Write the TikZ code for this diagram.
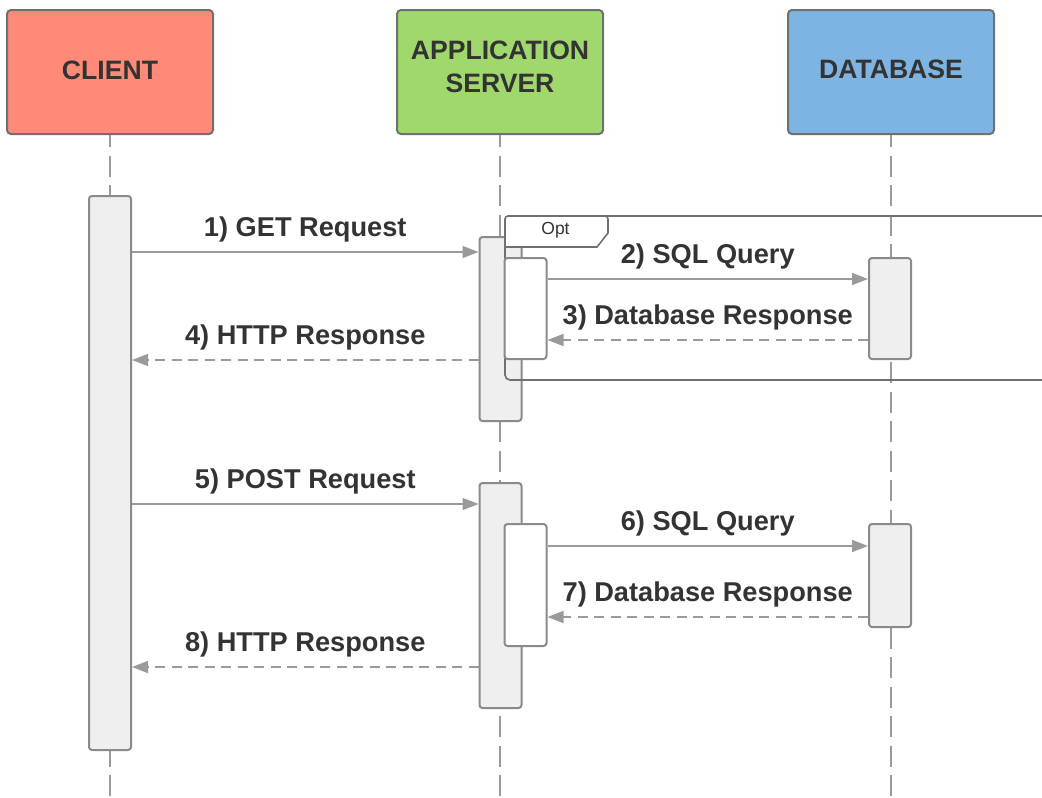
\documentclass[tikz,border=0pt]{standalone}
\usepackage{fontspec}
\setmainfont{Liberation Sans}
\usetikzlibrary{arrows.meta}
\definecolor{clientred}{HTML}{FF8A78}
\definecolor{servergreen}{HTML}{A0D86E}
\definecolor{dbblue}{HTML}{7DB4E1}
\definecolor{textdark}{HTML}{333333}
\definecolor{msggray}{HTML}{9A9A9A}
\definecolor{boxgray}{HTML}{8A8A8A}
\definecolor{headborder}{HTML}{707070}
\definecolor{actfill}{HTML}{EFEFEF}
\tikzset{
  head/.style={draw=headborder, line width=2pt, rounded corners=4pt,
    minimum width=206pt, minimum height=124pt, inner sep=0pt},
  headtext/.style={text=textdark, align=center, inner sep=0pt,
    font=\fontsize{26.6}{33.4}\selectfont\bfseries},
  act/.style={draw=boxgray, line width=2pt, rounded corners=3pt,
    fill=actfill, minimum width=42pt, inner sep=0pt},
  subact/.style={act, fill=white},
  lifeline/.style={draw=msggray, line width=1.5pt,
    dash pattern=on 21pt off 8.5pt, dash phase=9pt},
  msg/.style={draw=msggray, line width=1.6pt,
    -{Triangle[length=16pt,width=12pt]}},
  reply/.style={msg, dash pattern=on 10pt off 6.5pt},
  msglabel/.style={anchor=base, text=textdark, inner sep=0pt,
    font=\fontsize{27.2}{32}\selectfont\bfseries},
  framepen/.style={draw=headborder, line width=1.6pt},
}
\begin{document}
\begin{tikzpicture}[x=1pt, y=-1pt]
\useasboundingbox (0,0) rectangle (1042,798);
\clip (0,0) rectangle (1042,798);

% participants
\node[head, fill=clientred]   (client) at (110,72) {};
\node[head, fill=servergreen] (server) at (500,72) {};
\node[head, fill=dbblue]      (db)     at (891,72) {};
\node[headtext] (clientname) at (110,70)   {CLIENT};
\node[headtext] (servername) at (500,66.7) {APPLICATION\\SERVER};
\node[headtext] (dbname)     at (891,69.5) {DATABASE};

% lifelines
\coordinate (cend) at (110,800);
\coordinate (send) at (500,800);
\coordinate (dend) at (891,800);
\draw[lifeline] (client.south) -- (cend);
\draw[lifeline] (server.south) -- (send);
\draw[lifeline] (db.south) -- (dend);

% activations
\node[act, minimum height=554pt] (cact)  at (110,473) {};
\node[act, minimum height=184pt] (sact1) at (500.5,329) {};
\node[act, minimum height=225pt] (sact2) at (500.5,595.5) {};

% optional fragment: open frame with a label tab
\coordinate (fTL) at (505,216);
\coordinate (fBL) at (505,380);
\coordinate (fTR) at (1060,216);
\coordinate (fBR) at (1060,380);
\draw[framepen, rounded corners=5pt] (fTR) -- (fTL) -- (fBL) -- (fBR);
\draw[framepen, fill=white, rounded corners=3pt]
  (505,247) -- (fTL) -- (608,216) [sharp corners] -- (608,233) -- (597,247) -- cycle;
\node[text=textdark, font=\fontsize{17.5}{20}\selectfont] (optlabel) at (555.5,230) {Opt};

\node[subact, minimum height=101pt] (iact1) at (525.5,308.5) {};
\node[act, minimum height=101pt]    (dact1) at (890,308.5) {};
\node[subact, minimum height=122pt] (iact2) at (525.5,585) {};
\node[act, minimum height=103pt]    (dact2) at (890,575.5) {};

% message rows
\coordinate (m1) at (0,252);
\coordinate (m2) at (0,279);
\coordinate (m3) at (0,340);
\coordinate (m4) at (0,360);
\coordinate (m5) at (0,504);
\coordinate (m6) at (0,546);
\coordinate (m7) at (0,617);
\coordinate (m8) at (0,667);

\draw[msg]   (cact.east |- m1)  -- (sact1.west |- m1)
  node[msglabel, midway, yshift=16pt] {1) GET Request};
\draw[msg]   (iact1.east |- m2) -- (dact1.west |- m2)
  node[msglabel, midway, yshift=16pt] {2) SQL Query};
\draw[reply] (dact1.west |- m3) -- (iact1.east |- m3)
  node[msglabel, midway, yshift=16pt] {3) Database Response};
\draw[reply] (sact1.west |- m4) -- (cact.east |- m4)
  node[msglabel, midway, yshift=15.5pt] {4) HTTP Response};

\draw[msg]   (cact.east |- m5)  -- (sact2.west |- m5)
  node[msglabel, midway, yshift=16pt] {5) POST Request};
\draw[msg]   (iact2.east |- m6) -- (dact2.west |- m6)
  node[msglabel, midway, yshift=16pt] {6) SQL Query};
\draw[reply] (dact2.west |- m7) -- (iact2.east |- m7)
  node[msglabel, midway, yshift=16pt] {7) Database Response};
\draw[reply] (sact2.west |- m8) -- (cact.east |- m8)
  node[msglabel, midway, yshift=15.5pt] {8) HTTP Response};
\end{tikzpicture}
\end{document}
